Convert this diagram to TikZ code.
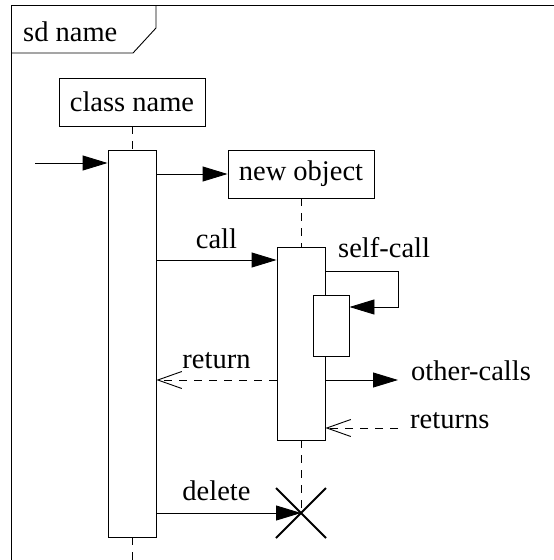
\documentclass[tikz,border=0pt]{standalone}
\usepackage{fontspec}
\setmainfont{Liberation Serif}
\usetikzlibrary{arrows.meta,shapes.misc}

\tikzset{
  lbl/.style={font=\fontsize{28.5}{34}\selectfont, inner sep=0pt},
  objbox/.style={draw, line width=0.9pt, minimum width=146pt, minimum height=48pt,
                 inner sep=0pt, font=\fontsize{28.5}{34}\selectfont},
  actbar/.style={draw, fill=white, line width=0.9pt, minimum width=48pt, inner sep=0pt},
  lifeline/.style={line width=0.9pt, dash pattern=on 8pt off 7pt},
  msg/.style={line width=0.9pt, -{Triangle[length=25pt, width=15pt]}},
  reply/.style={line width=0.9pt, dash pattern=on 8pt off 7pt,
                -{Straight Barb[length=24pt, width=17pt, line width=0.9pt]}},
  kill/.style={cross out, draw, line width=2pt, minimum size=48pt, inner sep=0pt}
}

\begin{document}
\begin{tikzpicture}[x=1pt, y=-1pt]
  \useasboundingbox (0,0) rectangle (554,560);

  % diagram frame with its name tab
  \draw[line width=1.4pt] (554,5.5) -- (11.5,5.5) -- (11.5,560);
  \draw[line width=0.9pt] (156,5.5) -- (156,28) -- (133,53) -- (11.5,53);
  \node[lbl, anchor=base west] (sd) at (23,41) {sd name};

  % participants
  \node[objbox] (cls) at (132,102) {class name};
  \node[objbox] (obj) at (301,174) {new object};

  % lifelines
  \coordinate (end1) at (132,560);
  \node[kill] (del) at (301,513) {};
  \draw[lifeline] (cls.south) -- (132,150);
  \draw[lifeline] (132,537) -- (end1);
  \draw[lifeline] (obj.south) -- (301,247);
  \draw[lifeline] (301,440) -- (del.center);

  % activation bars
  \node[actbar, minimum height=387pt] (a1) at (132,343.5) {};
  \node[actbar, minimum height=193pt] (a2) at (301,343.5) {};
  \node[actbar, minimum width=36pt, minimum height=61pt] (a3) at (331,325.5) {};

  % message levels
  \coordinate (src) at (35,163);
  \coordinate (ycall) at (0,260);
  \coordinate (selfout) at (398,271);
  \coordinate (selfin) at (398,307);
  \coordinate (oc) at (398,380);
  \coordinate (rt) at (398,428);

  % messages
  \draw[msg] (src) -- (a1.west |- src);
  \draw[msg] (a1.east |- obj.west) -- (obj.west);
  \draw[msg] (a1.east |- ycall) -- (a2.west |- ycall);
  \node[lbl, anchor=base] (lcall) at (216.5,248) {call};

  \draw[msg] (a2.east |- selfout) -- (selfout) -- (selfin) -- (a3.east |- selfin);
  \node[lbl, anchor=base west] (lself) at (338,257) {self-call};

  \draw[reply] (a2.west |- oc) -- (a1.east |- oc);
  \node[lbl, anchor=base] (lret) at (216.5,368) {return};

  \draw[msg] (a2.east |- oc) -- (oc);
  \node[lbl, anchor=base west] (loc) at (411,380) {other-calls};

  \draw[reply] (rt) -- (a2.east |- rt);
  \node[lbl, anchor=base west] (lrts) at (410,428) {returns};

  \draw[msg] (a1.east |- del) -- (del.center);
  \node[lbl, anchor=base] (ldel) at (216.5,500.5) {delete};
\end{tikzpicture}
\end{document}
